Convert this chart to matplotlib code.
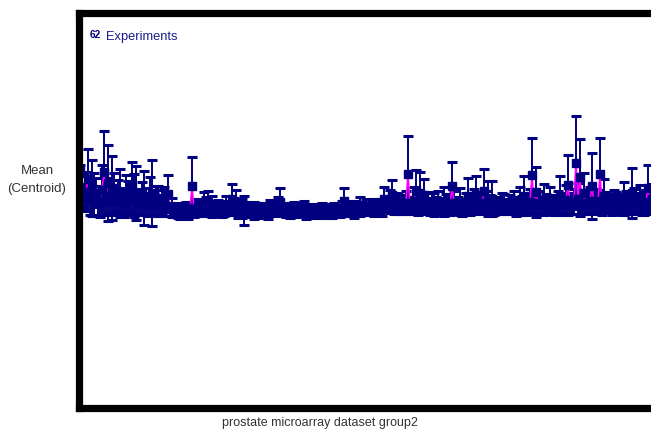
import matplotlib
matplotlib.use("Agg")
import matplotlib.pyplot as plt

NAVY = "#000080"
PINK = "#ff00ff"
TEXT = "#333333"

# mean expression (centroid) per gene and its standard deviation,
# genes in two interleaved runs along the x axis
means_a = [
    0.44, 0.16, 0.35, 0.26, 0.21, 0.12, 0.42, 0.31, 0.26, 0.14, 0.21, 0.10,
    0.17, 0.26, 0.21, 0.12, 0.16, 0.09, 0.21, 0.13, 0.08, 0.14, 0.20, 0.06,
    0.03, 0.01, 0.04, 0.02, 0.28, 0.03, 0.05, 0.10, 0.12, 0.07, 0.04, 0.05,
    0.02, 0.06, 0.15, 0.12, 0.05, 0.03, 0.06, 0.02, 0.04, 0.03, 0.05, 0.01,
    0.04, 0.06, 0.12, 0.05, 0.02, 0.03, 0.01, 0.04, 0.05, 0.02, 0.00, 0.03,
    0.01, 0.02, 0.04, 0.01, 0.03, 0.02, 0.13, 0.04, 0.03, 0.05, 0.07, 0.04,
    0.06, 0.05, 0.05, 0.07, 0.15, 0.08, 0.19, 0.07, 0.10, 0.06, 0.40, 0.08,
    0.23, 0.21, 0.19, 0.10, 0.12, 0.08, 0.06, 0.12, 0.09, 0.28, 0.08, 0.12,
    0.07, 0.18, 0.10, 0.19, 0.08, 0.23, 0.15, 0.15, 0.09, 0.06, 0.10, 0.07,
    0.09, 0.06, 0.13, 0.18, 0.08, 0.39, 0.22, 0.08, 0.14, 0.07, 0.10, 0.06,
    0.18, 0.09, 0.29, 0.10, 0.52, 0.37, 0.21, 0.11, 0.28, 0.13, 0.40, 0.18,
    0.10, 0.09, 0.12, 0.08, 0.15, 0.11, 0.21, 0.13, 0.14, 0.10, 0.26, 0.15,
]
sds_a = [
    0.06, 0.14, 0.31, 0.29, 0.15, 0.16, 0.43, 0.39, 0.33, 0.12, 0.25, 0.14,
    0.16, 0.27, 0.28, 0.13, 0.28, 0.12, 0.34, 0.15, 0.11, 0.13, 0.19, 0.10,
    0.06, 0.07, 0.05, 0.08, 0.30, 0.06, 0.07, 0.12, 0.11, 0.11, 0.06, 0.08,
    0.05, 0.07, 0.15, 0.12, 0.07, 0.15, 0.06, 0.05, 0.07, 0.06, 0.05, 0.07,
    0.06, 0.08, 0.14, 0.06, 0.05, 0.07, 0.05, 0.06, 0.08, 0.06, 0.05, 0.06,
    0.05, 0.07, 0.05, 0.06, 0.05, 0.06, 0.13, 0.07, 0.05, 0.06, 0.10, 0.06,
    0.05, 0.07, 0.06, 0.08, 0.12, 0.07, 0.15, 0.08, 0.09, 0.07, 0.40, 0.09,
    0.22, 0.21, 0.16, 0.11, 0.10, 0.09, 0.08, 0.15, 0.08, 0.25, 0.09, 0.14,
    0.08, 0.18, 0.09, 0.19, 0.08, 0.23, 0.18, 0.18, 0.08, 0.07, 0.10, 0.08,
    0.07, 0.09, 0.14, 0.20, 0.08, 0.39, 0.26, 0.09, 0.16, 0.08, 0.09, 0.08,
    0.20, 0.10, 0.31, 0.11, 0.48, 0.40, 0.20, 0.12, 0.34, 0.12, 0.38, 0.17,
    0.10, 0.11, 0.10, 0.09, 0.17, 0.10, 0.26, 0.12, 0.15, 0.12, 0.24, 0.15,
]
means_b = [
    0.18, 0.22, 0.15, 0.19, 0.11, 0.24, 0.17, 0.13, 0.20, 0.16, 0.12, 0.19,
    0.14, 0.18, 0.10, 0.15, 0.12, 0.17, 0.09, 0.13, 0.11, 0.07, 0.04, 0.02,
    0.03, 0.01, 0.05, 0.03, 0.04, 0.06, 0.04, 0.08, 0.05, 0.03, 0.06, 0.03,
    0.08, 0.04, 0.07, 0.03, 0.05, 0.02, 0.04, 0.03, 0.05, 0.02, 0.03, 0.06,
    0.02, 0.07, 0.04, 0.03, 0.01, 0.04, 0.02, 0.03, 0.01, 0.04, 0.02, 0.00,
    0.03, 0.02, 0.01, 0.04, 0.02, 0.05, 0.03, 0.06, 0.04, 0.03, 0.05, 0.07,
    0.04, 0.06, 0.08, 0.06, 0.09, 0.12, 0.07, 0.10, 0.08, 0.11, 0.09, 0.13,
    0.10, 0.08, 0.11, 0.07, 0.09, 0.12, 0.08, 0.10, 0.07, 0.11, 0.09, 0.06,
    0.10, 0.08, 0.12, 0.09, 0.07, 0.11, 0.09, 0.06, 0.08, 0.10, 0.07, 0.09,
    0.11, 0.08, 0.10, 0.07, 0.12, 0.09, 0.11, 0.08, 0.10, 0.13, 0.07, 0.11,
    0.09, 0.14, 0.10, 0.12, 0.15, 0.11, 0.09, 0.13, 0.10, 0.12, 0.08, 0.11,
    0.09, 0.12, 0.10, 0.07, 0.11, 0.09, 0.13, 0.10, 0.08, 0.12, 0.10,
]
sds_b = [
    0.12, 0.20, 0.17, 0.22, 0.13, 0.26, 0.19, 0.15, 0.21, 0.18, 0.14, 0.20,
    0.16, 0.22, 0.12, 0.17, 0.14, 0.20, 0.12, 0.15, 0.13, 0.10, 0.07, 0.06,
    0.08, 0.06, 0.07, 0.06, 0.08, 0.09, 0.07, 0.09, 0.08, 0.06, 0.08, 0.07,
    0.10, 0.06, 0.09, 0.08, 0.10, 0.06, 0.07, 0.09, 0.06, 0.07, 0.06, 0.08,
    0.05, 0.10, 0.06, 0.07, 0.06, 0.08, 0.05, 0.06, 0.07, 0.05, 0.06, 0.05,
    0.07, 0.05, 0.06, 0.07, 0.05, 0.08, 0.06, 0.07, 0.09, 0.06, 0.07, 0.08,
    0.06, 0.09, 0.07, 0.09, 0.08, 0.12, 0.08, 0.11, 0.09, 0.12, 0.08, 0.14,
    0.12, 0.09, 0.10, 0.09, 0.12, 0.11, 0.08, 0.10, 0.09, 0.12, 0.08, 0.09,
    0.11, 0.10, 0.13, 0.09, 0.08, 0.12, 0.10, 0.08, 0.09, 0.11, 0.08, 0.10,
    0.12, 0.09, 0.08, 0.09, 0.13, 0.10, 0.12, 0.09, 0.10, 0.14, 0.09, 0.12,
    0.10, 0.15, 0.11, 0.13, 0.16, 0.12, 0.10, 0.14, 0.11, 0.12, 0.10, 0.11,
    0.09, 0.12, 0.10, 0.09, 0.12, 0.10, 0.13, 0.11, 0.10, 0.12, 0.11,
]
n_experiments = 62

genes, means, sds = [], [], []
for i in range(len(means_a)):
    genes.append(i)
    means.append(means_a[i])
    sds.append(sds_a[i])
    if i < len(means_b):
        genes.append(i + 0.5)
        means.append(means_b[i])
        sds.append(sds_b[i])

fig = plt.figure(figsize=(6.51, 4.33), dpi=100)
ax = fig.add_axes([0.1221, 0.0577, 0.8779, 0.9134])

ax.errorbar(genes, means, yerr=sds, fmt="none", ecolor=NAVY,
            elinewidth=1.4, capsize=3.6, capthick=2.2, zorder=2)
ax.plot(genes, means, color=PINK, lw=1.2, zorder=3)
ax.plot(genes, means, "s", color=NAVY, ms=6, zorder=4)

ax.set_xlim(-0.125, 142.75)
ax.set_ylim(-2.01, 2.07)
ax.set_xticks([])
ax.set_yticks([])
for side in ["left", "top", "bottom"]:
    ax.spines[side].set_linewidth(5.2)
    ax.spines[side].set_color("black")
    ax.spines[side].set_zorder(10)
ax.spines["right"].set_visible(False)

ax.text(0.0184, 0.943, str(n_experiments), transform=ax.transAxes,
        fontsize=7.2, color=NAVY, fontweight="bold", va="center",
        family="Liberation Sans")
ax.text(0.0464, 0.938, "Experiments", transform=ax.transAxes,
        fontsize=9.3, color="#1c1c8c", va="center", family="Liberation Sans")

fig.text(37 / 651, 1 - 180 / 433, "Mean\n(Centroid)", ha="center",
         va="center", fontsize=9.5, color=TEXT, family="Liberation Sans",
         linespacing=1.6)
fig.text(320 / 651, 1 - 423 / 433, "prostate microarray dataset group2",
         ha="center", va="center", fontsize=9, color=TEXT,
         family="Liberation Sans")

fig.savefig("out.png", dpi=100)
